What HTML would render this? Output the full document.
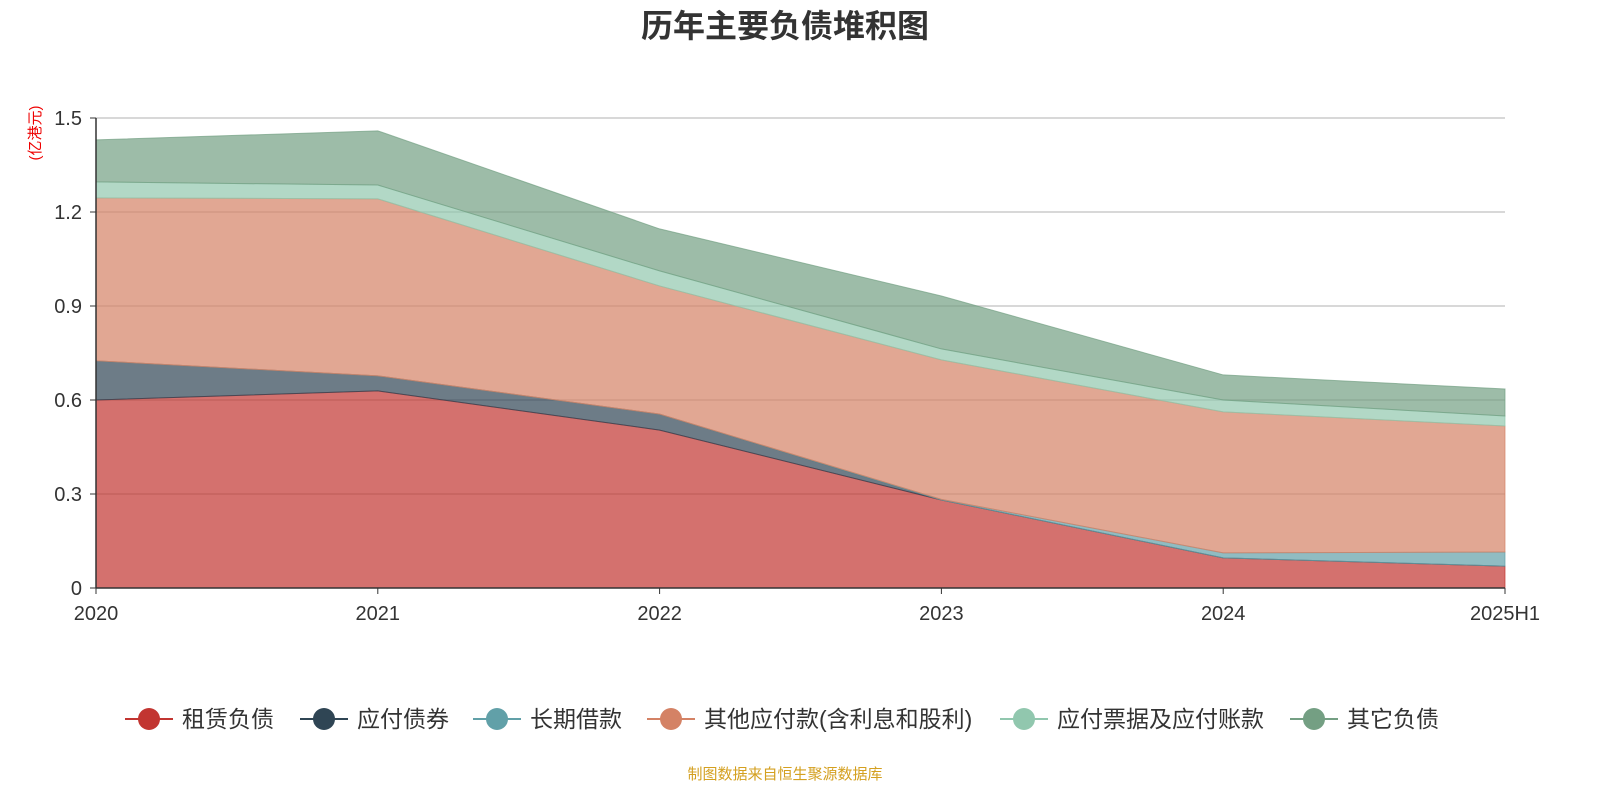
<!DOCTYPE html>
<html><head><meta charset="utf-8">
<style>
body{margin:0;background:#fff;font-family:"Liberation Sans","Noto Sans CJK SC",sans-serif;}
svg{display:block}
</style></head>
<body>
<svg id="chart" width="1600" height="800" xmlns="http://www.w3.org/2000/svg">
<text x="785" y="37" text-anchor="middle" font-size="32" font-weight="bold" fill="#333" font-family="Liberation Sans, Noto Sans CJK SC, sans-serif">历年主要负债堆积图</text>
<text transform="translate(40,133) rotate(-90)" text-anchor="middle" font-size="15" fill="#e00" font-family="Liberation Sans, Noto Sans CJK SC, sans-serif">(亿港元)</text>
<g id="grid"></g><g id="areas"></g><g id="axes"></g><g id="legend"></g>
<text x="785" y="779" text-anchor="middle" font-size="15" fill="#d4a020" font-family="Liberation Sans, Noto Sans CJK SC, sans-serif">制图数据来自恒生聚源数据库</text>
</svg>
<script>
const categories=["2020","2021","2022","2023","2024","2025H1"];
const seriesNames=["租赁负债","应付债券","长期借款","其他应付款(含利息和股利)","应付票据及应付账款","其它负债"];
const rent=[0.60,0.629,0.504,0.281,0.096,0.07];
const bonds=[0.125,0.048,0.051,0,0,0];
const loans=[0,0,0,0.002,0.016,0.045];
const otherPay=[0.52,0.565,0.409,0.445,0.45,0.402];
const notesPay=[0.051,0.044,0.048,0.035,0.038,0.032];
const otherLiab=[0.134,0.173,0.134,0.169,0.08,0.086];
const yTicks=[0,0.3,0.6,0.9,1.2,1.5];
const colors=["#c23531","#2f4554","#61a0a8","#d48265","#91c7ae","#749f83"];
const NS="http://www.w3.org/2000/svg";
const x0=96,x1=1505,y0=588,y1=118,yMax=1.5;
const xs=i=>x0+(x1-x0)*i/(categories.length-1);
const ys=v=>y0-(y0-y1)*v/yMax;
function mk(tag,attrs,parent){const e=document.createElementNS(NS,tag);for(const k in attrs)e.setAttribute(k,attrs[k]);parent.appendChild(e);return e;}
const grid=document.getElementById('grid'),areas=document.getElementById('areas'),axes=document.getElementById('axes'),legend=document.getElementById('legend');
yTicks.forEach(t=>{
 if(t>0){const l=mk('line',{x1:x0,x2:x1,y1:ys(t),y2:ys(t),stroke:'#ccc','stroke-width':1.5},grid);
 
 }
 const tk=mk('line',{x1:x0-6,x2:x0,y1:ys(t),y2:ys(t),stroke:'#333'},axes);
 
 
 const tx=mk('text',{x:x0-14,y:ys(t)+7,'text-anchor':'end','font-size':20,fill:'#333'},axes);
 tx.textContent=String(t);
 
 
});
const data=[rent,bonds,loans,otherPay,notesPay,otherLiab];
let base=categories.map(()=>0);
data.forEach((s,si)=>{
 const top=s.map((v,i)=>base[i]+v);
 let d='M'+categories.map((c,i)=>xs(i)+','+ys(top[i])).join(' L');
 for(let i=categories.length-1;i>=0;i--)d+=' L'+xs(i)+','+ys(base[i]);
 d+=' Z';
 const p=mk('path',{d:d,fill:colors[si],'fill-opacity':0.7,stroke:colors[si],'stroke-opacity':0.7,'stroke-width':1},areas);
 
 
 base=top;
});
const ax=mk('line',{x1:x0,x2:x0,y1:y1,y2:y0,stroke:'#333','stroke-width':1.5},axes);


const bx=mk('line',{x1:x0,x2:x1,y1:y0,y2:y0,stroke:'#333','stroke-width':1.5},axes);


categories.forEach((c,i)=>{
 const tk=mk('line',{x1:xs(i),x2:xs(i),y1:y0,y2:y0+6,stroke:'#333'},axes);
 
 
 const t=mk('text',{x:xs(i),y:620,'text-anchor':'middle','font-size':20,fill:'#333'},axes);
 t.textContent=c;
 
 
});
const lx=[125,300,473,647,1000,1290];
seriesNames.forEach((n,i)=>{
 const g=mk('g',{},legend);
 
 
 mk('line',{x1:lx[i],x2:lx[i]+48,y1:719,y2:719,stroke:colors[i],'stroke-width':2},g);
 mk('circle',{cx:lx[i]+24,cy:719,r:11,fill:colors[i]},g);
 const t=mk('text',{x:lx[i]+57,y:727,'font-size':23,fill:'#333'},g);
 t.textContent=n;
});
</script>
</body></html>
